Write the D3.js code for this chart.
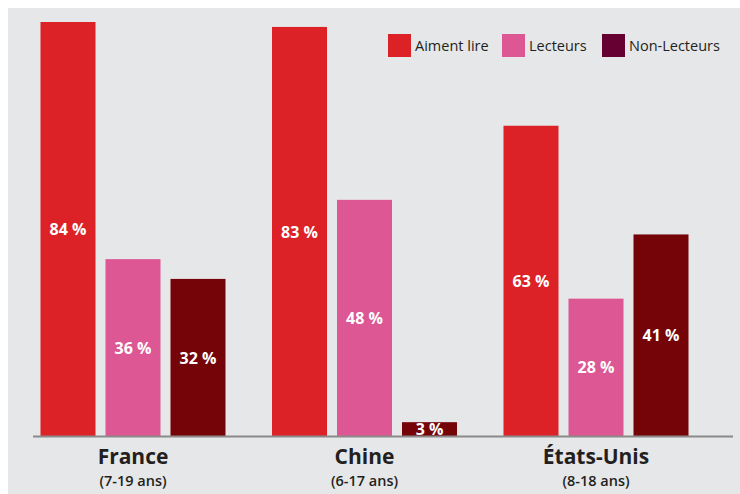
<!DOCTYPE html>
<html>
<head>
<meta charset="utf-8">
<script src="https://cdn.jsdelivr.net/npm/d3@7"></script>
<style>
  body { margin: 0; background: #fff; }
  svg { display: block; font-family: "Open Sans", "Noto Sans", sans-serif; }
</style>
</head>
<body>
<div id="chart"></div>
<script>
const countries = ["France", "Chine", "États-Unis"];
const ages = ["(7-19 ans)", "(6-17 ans)", "(8-18 ans)"];
const series = ["Aiment lire", "Lecteurs", "Non-Lecteurs"];
const aimentLire = [84, 83, 63];
const lecteurs = [36, 48, 28];
const nonLecteurs = [32, 3, 41];

const barColors = ["#dc2227", "#dc5794", "#740408"];
const legendColors = ["#dc2227", "#dc5794", "#660033"];

const width = 740, height = 494;
const baseY = 437;

const data = countries.map((c, i) => ({
    country: c,
    age: ages[i],
    values: [aimentLire[i], lecteurs[i], nonLecteurs[i]]
}));

const svg = d3.select("#chart").append("svg")
    .attr("width", width)
    .attr("height", height);

svg.append("rect")
    .attr("x", 8).attr("y", 8)
    .attr("width", width - 8).attr("height", height - 8)
    .attr("fill", "#e6e7e8");

const x0 = d3.scalePoint()
    .domain(countries)
    .range([133, 596]);

const x1 = d3.scaleBand()
    .domain(series)
    .range([-92.5, 92.5])
    .paddingInner(10 / 65)
    .paddingOuter(0);

const y = d3.scaleLinear()
    .domain([0, 84])
    .range([baseY, 22]);

const groups = svg.selectAll(".group")
    .data(data)
    .enter().append("g")
    .attr("class", "group")
    .attr("transform", d => `translate(${x0(d.country)},0)`);

const bars = groups.selectAll(".bar")
    .data(d => d.values.map((v, k) => ({ key: series[k], value: v, k })))
    .enter();

bars.append("rect")
    .attr("x", d => x1(d.key))
    .attr("y", d => y(d.value))
    .attr("width", x1.bandwidth())
    .attr("height", d => baseY - y(d.value))
    .attr("fill", d => barColors[d.k]);

bars.append("text")
    .attr("x", d => x1(d.key) + x1.bandwidth() / 2)
    .attr("y", d => (y(d.value) + baseY) / 2)
    .attr("dy", "0.35em")
    .attr("text-anchor", "middle")
    .style("font-size", "16px")
    .style("font-weight", "bold")
    .style("fill", "#fff")
    .text(d => d.value + " %");

// axis line
svg.append("line")
    .attr("x1", 33).attr("x2", 733)
    .attr("y1", baseY - 0.5).attr("y2", baseY - 0.5)
    .attr("stroke", "#8a8a8a")
    .attr("stroke-width", 2);

groups.append("text")
    .attr("y", 464)
    .attr("text-anchor", "middle")
    .style("font-size", "21px")
    .style("font-weight", "bold")
    .style("fill", "#231f20")
    .text(d => d.country);

groups.append("text")
    .attr("y", 486)
    .attr("text-anchor", "middle")
    .style("font-size", "14.5px")
    .style("font-weight", "600")
    .style("fill", "#231f20")
    .text(d => d.age);

// legend
const legendX = [388, 502, 602];
const legend = svg.selectAll(".legend")
    .data(series)
    .enter().append("g")
    .attr("class", "legend")
    .attr("transform", (d, i) => `translate(${legendX[i]},34)`);

legend.append("rect")
    .attr("width", 23).attr("height", 23)
    .attr("fill", (d, i) => legendColors[i]);

legend.append("text")
    .attr("x", 27)
    .attr("y", 12)
    .attr("dy", "0.35em")
    .style("font-size", "14.5px")
    .style("fill", "#231f20")
    .text(d => d);
</script>
</body>
</html>
